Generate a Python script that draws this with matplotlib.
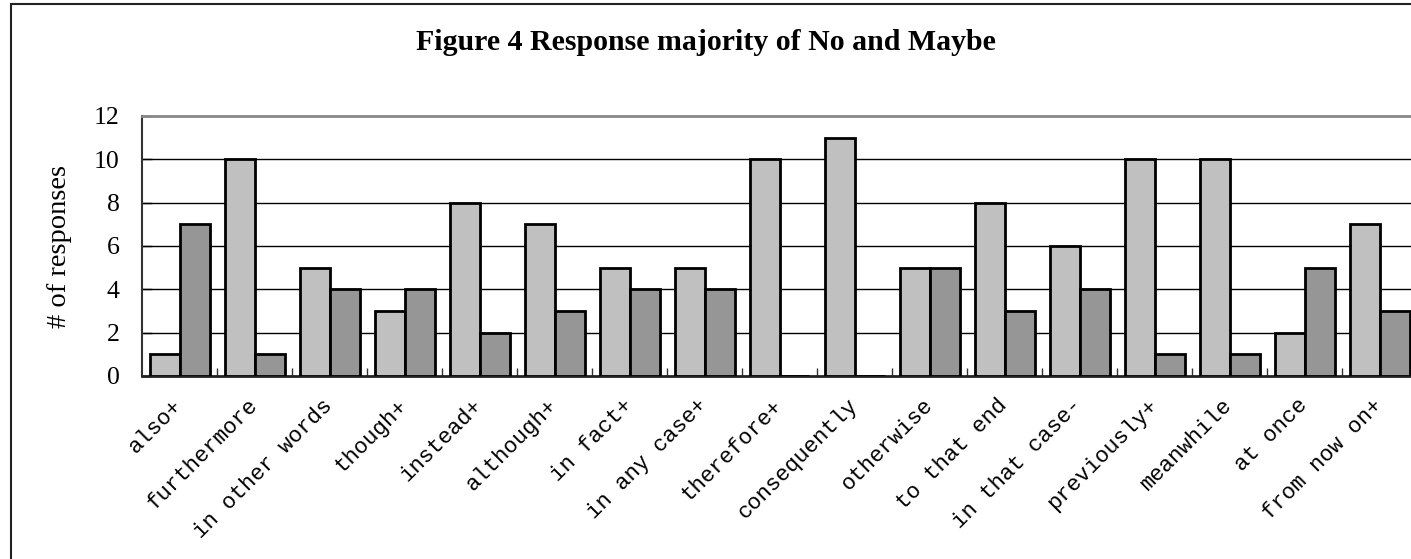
import matplotlib
matplotlib.use("Agg")
import matplotlib.pyplot as plt
from matplotlib.patches import Rectangle
from matplotlib.ticker import FixedLocator
import numpy as np

categories = ["also+", "furthermore", "in other words", "though+", "instead+",
              "although+", "in fact+", "in any case+", "therefore+", "consequently",
              "otherwise", "to that end", "in that case-", "previously+", "meanwhile",
              "at once", "from now on+"]
no_vals = [1, 10, 5, 3, 8, 7, 5, 5, 10, 11, 5, 8, 6, 10, 10, 2, 7]
maybe_vals = [7, 1, 4, 4, 2, 3, 4, 4, 0, 0, 5, 3, 4, 1, 1, 5, 3]
y_ticks = [0, 2, 4, 6, 8, 10, 12]
title = "Figure 4 Response majority of No and Maybe"
ylabel = "# of responses"

W, H = 1411, 559
fig = plt.figure(figsize=(W / 100, H / 100), dpi=100)

# figure frame (partially cut off at right and bottom)
fig.patches.append(Rectangle((11 / W, -0.1), 1.2, 1.1 - 4 / H, transform=fig.transFigure,
                             fill=False, edgecolor="#222222", linewidth=1.5))

ax_left, ax_top, ax_bot = 142, 116, 376
cat_w = 75
ax = fig.add_axes([ax_left / W, 1 - ax_bot / H, len(categories) * cat_w / W, (ax_bot - ax_top) / H])

x = np.arange(len(categories))
bw = 0.4
ax.bar(x - bw / 2, no_vals, bw, color="#C0C0C0", edgecolor="black", linewidth=2, zorder=3)
ax.bar(x + bw / 2, maybe_vals, bw, color="#969696", edgecolor="black", linewidth=2, zorder=3)

ax.set_xlim(-0.5, len(categories) - 0.5)
ax.set_ylim(0, 12)
ax.set_yticks(y_ticks)
ax.set_yticklabels([str(v) for v in y_ticks], fontfamily="Liberation Serif", fontsize=18.5)
for v in y_ticks[1:-1]:
    ax.axhline(v, color="black", linewidth=1, zorder=1)

ax.set_xticks(x)
ax.set_xticklabels(categories, rotation=45, ha="right", va="center", rotation_mode="anchor",
                   fontfamily="Liberation Mono", fontsize=16)
ax.tick_params(axis="x", which="major", length=0, pad=19)
ax.xaxis.set_minor_locator(FixedLocator(np.arange(0.5, len(categories) - 0.5, 1)))
ax.tick_params(axis="x", which="minor", direction="in", length=6, width=1, color="#333333")
ax.tick_params(axis="y", direction="in", length=7, width=1, pad=16, color="black")

ax.spines["top"].set_color("#888888")
ax.spines["top"].set_linewidth(2)
ax.spines["left"].set_color("#333333")
ax.spines["left"].set_linewidth(1.5)
ax.spines["bottom"].set_color("#222222")
ax.spines["bottom"].set_linewidth(2)
ax.spines["right"].set_visible(False)

ax.set_ylabel(ylabel, fontfamily="Liberation Serif", fontsize=20.5, labelpad=16)

fig.text(0.5, 1 - 43 / H, title, ha="center", va="center", fontfamily="Liberation Serif",
         fontweight="bold", fontsize=21.5)

fig.savefig("out.png", dpi=100)
